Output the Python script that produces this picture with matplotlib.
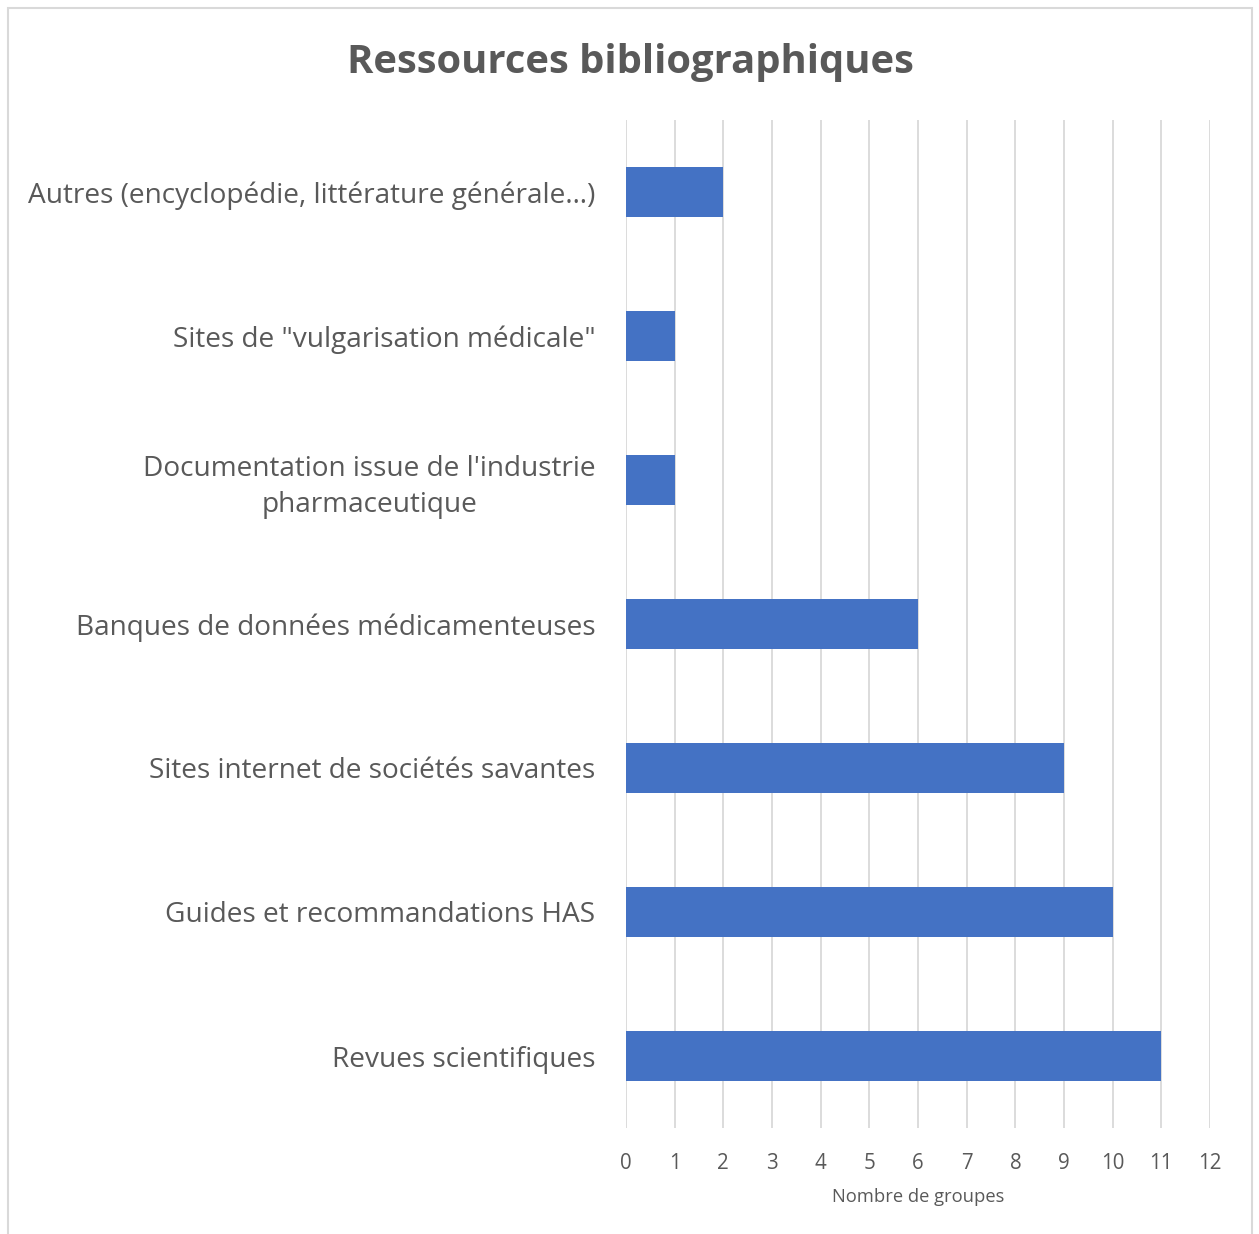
import matplotlib
matplotlib.use("Agg")
import matplotlib.pyplot as plt
from matplotlib.patches import Rectangle

categories = [
    "Revues scientifiques",
    "Guides et recommandations HAS",
    "Sites internet de sociétés savantes",
    "Banques de données médicamenteuses",
    "Documentation issue de l'industrie\npharmaceutique",
    "Sites de \"vulgarisation médicale\"",
    "Autres (encyclopédie, littérature générale…)",
]
values = [11, 10, 9, 6, 1, 1, 2]
xticks = list(range(0, 13))

TEXT = "#595959"
GRID = "#D9D9D9"
BAR = "#4472C4"
FONT = ["Open Sans", "DejaVu Sans"]

W, H = 1259, 1234
fig = plt.figure(figsize=(W / 100, H / 100), dpi=100)
fig.patch.set_facecolor("white")

# outer chart frame
fig.patches.append(Rectangle((8 / W, -0.01), (1252 - 8) / W, 1 - 8 / H + 0.01,
                             transform=fig.transFigure, fill=False,
                             edgecolor=GRID, linewidth=1.5))

ax = fig.add_axes([626 / W, 1 - 1128 / H, (1210 - 626) / W, (1128 - 120) / H])
y = list(range(len(categories)))
ax.barh(y, values, height=0.35, color=BAR, zorder=3)
ax.set_xlim(0, 12)
ax.set_ylim(-0.5, len(categories) - 0.5)
ax.set_xticks(xticks)
ax.set_xticklabels([str(t) for t in xticks], fontsize=14.8, color=TEXT, family=FONT)
ax.set_yticks(y)
ax.set_yticklabels(categories, fontsize=20.2, color=TEXT, family=FONT,
                   multialignment="center", linespacing=1.35)
ax.tick_params(axis="both", length=0)
ax.tick_params(axis="x", pad=18)
ax.tick_params(axis="y", pad=22)
ax.grid(axis="x", color=GRID, linewidth=1.3, zorder=0)
for s in ax.spines.values():
    s.set_visible(False)
ax.set_xlabel("Nombre de groupes", fontsize=13.2, color=TEXT, family=FONT, labelpad=10)

fig.text(630 / W, 1 - 62 / H, "Ressources bibliographiques", ha="center", va="center",
         fontsize=28.8, fontweight="bold", color=TEXT, family=FONT)

fig.savefig("out.png", dpi=100, facecolor="white")
